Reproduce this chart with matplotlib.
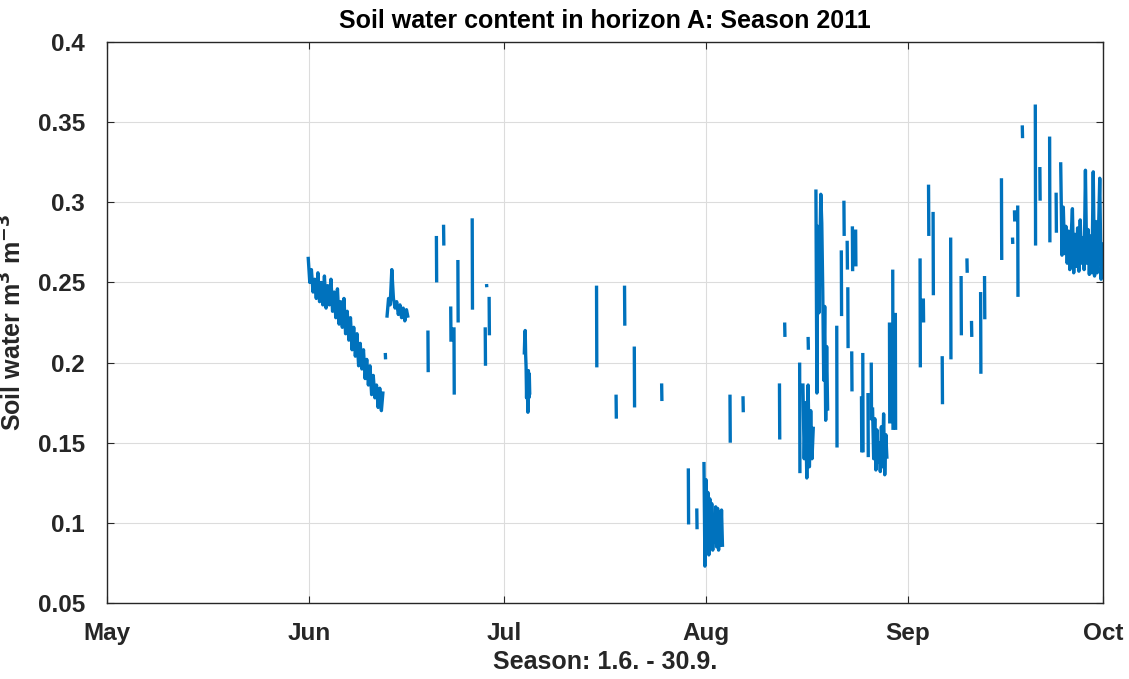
import numpy as np
import matplotlib
matplotlib.use("Agg")
import matplotlib.pyplot as plt
import matplotlib.dates as mdates

# Time axis: days since 1 May 2011
START = np.datetime64("2011-05-01T00:00")

# Dense runs of readings: (first day, step in days, values)
RUN_START = [30.9, 43.0, 64.1, 91.7, 106.9, 108.9, 117.6, 146.5]
RUN_STEP = [0.25, 0.25, 0.07, 0.15, 0.2, 0.15, 0.17, 0.2]
RUN_VALUES = [
    [0.266, 0.250, 0.258, 0.244, 0.252, 0.240, 0.256, 0.238, 0.250, 0.236,
     0.254, 0.234, 0.248, 0.236, 0.252, 0.232, 0.244, 0.228, 0.246, 0.224,
     0.238, 0.222, 0.240, 0.218, 0.232, 0.214, 0.228, 0.208, 0.222, 0.204,
     0.218, 0.198, 0.212, 0.196, 0.208, 0.190, 0.202, 0.186, 0.198, 0.180,
     0.192, 0.178, 0.186, 0.172, 0.184, 0.170, 0.182],
    [0.228, 0.240, 0.236, 0.258, 0.240, 0.234, 0.238, 0.230, 0.236, 0.228,
     0.234, 0.226, 0.233, 0.228],
    [0.205, 0.215, 0.220, 0.205, 0.197, 0.178, 0.195, 0.180, 0.169, 0.195,
     0.178, 0.193, 0.180],
    [0.138, 0.073, 0.127, 0.087, 0.119, 0.080, 0.115, 0.088, 0.112, 0.083,
     0.105, 0.088, 0.110, 0.085, 0.109, 0.083, 0.107, 0.086, 0.108, 0.085],
    [0.187, 0.140, 0.175, 0.128, 0.186, 0.135, 0.170, 0.140, 0.160],
    [0.308, 0.181, 0.285, 0.231, 0.270, 0.305, 0.287, 0.245, 0.189, 0.235,
     0.164, 0.210, 0.170],
    [0.172, 0.140, 0.165, 0.133, 0.158, 0.138, 0.150, 0.132, 0.160, 0.135,
     0.168, 0.130, 0.155, 0.140],
    [0.325, 0.267, 0.297, 0.268, 0.285, 0.262, 0.282, 0.258, 0.278, 0.296,
     0.256, 0.280, 0.260, 0.284, 0.257, 0.289, 0.262, 0.278, 0.258, 0.320,
     0.262, 0.283, 0.255, 0.279, 0.256, 0.319, 0.254, 0.288, 0.256, 0.280,
     0.315, 0.252, 0.275],
]

# Short isolated events: day, highest and lowest reading
BAR_DAY = [42.75, 49.3, 50.6, 51.7, 52.8, 53.3, 53.9, 56.1, 58.1, 58.3, 58.7,
           75.2, 78.2, 79.5, 81.0, 85.2, 89.3, 90.6, 95.7, 97.7, 103.3, 104.1,
           106.4, 107.7, 112.1, 112.8, 113.2, 113.7, 113.8, 114.4, 114.5,
           115.0, 115.9, 116.1, 116.9, 117.4, 120.2, 120.7, 121.1, 124.9,
           125.4, 126.2, 126.9, 128.3, 129.6, 131.2, 132.1, 132.8, 134.2,
           134.8, 137.4, 139.1, 139.4, 139.9, 140.6, 142.6, 143.3, 144.8,
           145.8]
BAR_TOP = [0.206, 0.220, 0.279, 0.286, 0.235, 0.222, 0.264, 0.290, 0.222,
           0.249, 0.241, 0.248, 0.180, 0.248, 0.210, 0.187, 0.134, 0.109,
           0.180, 0.179, 0.187, 0.225, 0.200, 0.216, 0.223, 0.270, 0.301,
           0.276, 0.247, 0.207, 0.285, 0.283, 0.179, 0.206, 0.181, 0.200,
           0.225, 0.258, 0.231, 0.265, 0.240, 0.311, 0.294, 0.204, 0.278,
           0.254, 0.265, 0.226, 0.244, 0.254, 0.315, 0.278, 0.295, 0.298,
           0.348, 0.361, 0.322, 0.341, 0.306]
BAR_BOT = [0.202, 0.194, 0.250, 0.273, 0.213, 0.180, 0.225, 0.233, 0.198,
           0.247, 0.217, 0.197, 0.165, 0.223, 0.172, 0.176, 0.099, 0.096,
           0.150, 0.169, 0.152, 0.216, 0.131, 0.208, 0.147, 0.229, 0.279,
           0.258, 0.209, 0.182, 0.257, 0.260, 0.144, 0.144, 0.141, 0.164,
           0.162, 0.158, 0.158, 0.197, 0.225, 0.279, 0.242, 0.174, 0.202,
           0.217, 0.256, 0.216, 0.193, 0.227, 0.264, 0.274, 0.288, 0.241,
           0.340, 0.273, 0.301, 0.275, 0.281]

YTICKS = [0.05, 0.1, 0.15, 0.2, 0.25, 0.3, 0.35, 0.4]
YTICKLABELS = ["0.05", "0.1", "0.15", "0.2", "0.25", "0.3", "0.35", "0.4"]

BLUE = "#0072BD"
FONT = "Liberation Sans"


def to_time(days):
    minutes = np.round(np.asarray(days, dtype=float) * 1440).astype("int64")
    return START + minutes.astype("timedelta64[m]")


def build_series():
    ts, vs = [], []
    for t0, dt, vals in zip(RUN_START, RUN_STEP, RUN_VALUES):
        days = t0 + dt * np.arange(len(vals))
        ts.append(days)
        vs.append(np.asarray(vals))
        ts.append([days[-1]])
        vs.append([np.nan])
    for d, hi, lo in zip(BAR_DAY, BAR_TOP, BAR_BOT):
        ts.append([d, d + 1 / 24, d + 2 / 24])
        vs.append([hi, lo, np.nan])
    return to_time(np.concatenate(ts)), np.concatenate(vs)


def main():
    plt.rcParams["font.family"] = [FONT, "DejaVu Sans"]
    plt.rcParams["font.weight"] = "bold"
    fig = plt.figure(figsize=(11.29, 6.79), dpi=100)
    ax = fig.add_axes([107 / 1129, 76 / 679, 996 / 1129, 561 / 679])

    t, v = build_series()
    ax.plot(t, v, color=BLUE, lw=2.4, solid_capstyle="butt")

    ax.set_xlim(to_time([0])[0], np.datetime64("2011-10-01T00:00"))
    ax.set_ylim(0.05, 0.4)
    ax.xaxis.set_major_locator(mdates.MonthLocator())
    ax.xaxis.set_major_formatter(mdates.DateFormatter("%b"))
    ax.set_yticks(YTICKS)
    ax.set_yticklabels(YTICKLABELS)

    ax.grid(True, color="#dcdcdc", lw=0.8)
    ax.set_axisbelow(True)
    for s in ax.spines.values():
        s.set_color("#262626")
        s.set_linewidth(1.0)
    ax.tick_params(direction="in", length=5, width=0.8, color="#262626",
                   top=True, right=True, labelsize=17.5, labelcolor="#262626")
    ax.tick_params(axis="y", pad=16)
    ax.tick_params(axis="x", pad=14)
    for lab in ax.get_xticklabels() + ax.get_yticklabels():
        lab.set_fontweight("bold")

    ax.set_title("Soil water content in horizon A: Season 2011",
                 fontsize=18, fontweight="bold", pad=10)
    ax.set_xlabel("Season: 1.6. - 30.9.", fontsize=18, fontweight="bold",
                  color="#262626", labelpad=3)
    ax.set_ylabel("Soil water m$^{\\mathbf{3}}$ m$^{\\mathbf{-3}}$",
                  fontsize=18, fontweight="bold", color="#262626", labelpad=8)

    fig.savefig("out.png", dpi=100)


if __name__ == "__main__":
    main()
